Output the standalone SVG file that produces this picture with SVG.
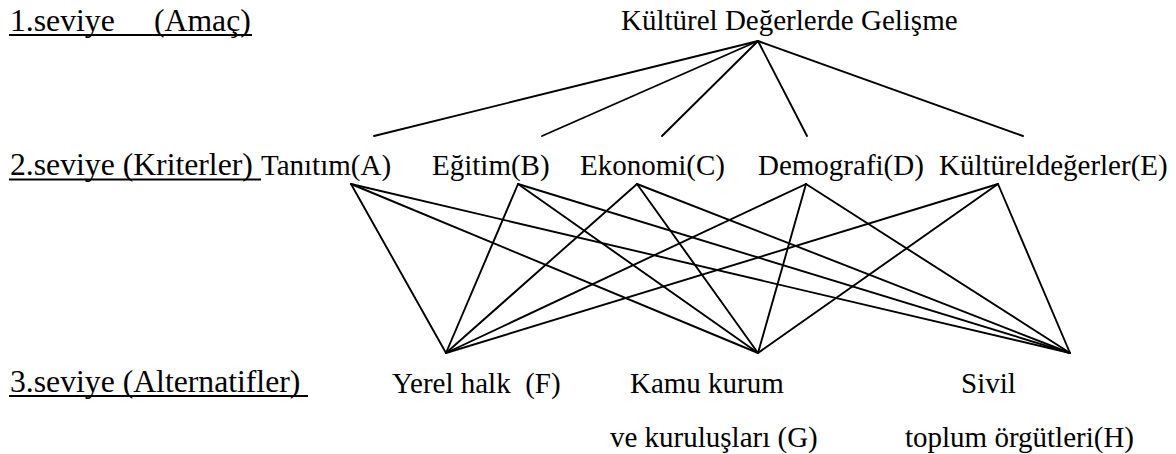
<svg xmlns="http://www.w3.org/2000/svg" width="1176" height="454" viewBox="0 0 1176 454">
<style>
text{font-family:'Liberation Serif','DejaVu Serif',serif;fill:#000}
.n{font-size:29px}
.lv{font-size:31.7px}
.ul{stroke:#000;stroke-width:2}
#connectors line{stroke:#000;stroke-width:1.9;stroke-linecap:round}
</style>
<rect width="1176" height="454" fill="#fff"/>
<g id="levels" font-family="Liberation Serif">
<text class="lv" x="10" y="31">1.seviye</text>
<text class="lv" x="154" y="31">(Amaç)</text>
<line class="ul" x1="9" y1="35" x2="252" y2="35"/>
<text class="lv" x="10" y="175">2.seviye (Kriterler)</text>
<line class="ul" x1="9" y1="179.5" x2="261" y2="179.5"/>
<text class="lv" x="10" y="392">3.seviye (Alternatifler)</text>
<line class="ul" x1="9" y1="396" x2="308" y2="396"/>
</g>
<g id="goal"><text class="n" x="621" y="30">Kültürel Değerlerde Gelişme</text></g>
<g id="nodeA"><text class="n" x="261" y="175">Tanıtım(A)</text></g>
<g id="nodeB"><text class="n" x="432" y="175">Eğitim(B)</text></g>
<g id="nodeC"><text class="n" x="580" y="175">Ekonomi(C)</text></g>
<g id="nodeD"><text class="n" x="758" y="175">Demografi(D)</text></g>
<g id="nodeE"><text class="n" x="939" y="175">Kültüreldeğerler(E)</text></g>
<g id="nodeF"><text class="n" x="392" y="393" xml:space="preserve">Yerel halk  (F)</text></g>
<g id="nodeG"><text class="n" x="630" y="393">Kamu kurum</text><text class="n" x="610" y="447">ve kuruluşları (G)</text></g>
<g id="nodeH"><text class="n" x="961" y="393">Sivil</text><text class="n" x="905" y="447">toplum örgütleri(H)</text></g>
<g id="connectors">
<line x1="758" y1="41" x2="374" y2="136"/>
<line x1="758" y1="41" x2="542" y2="136"/>
<line x1="758" y1="41" x2="662" y2="136"/>
<line x1="758" y1="41" x2="807" y2="136"/>
<line x1="758" y1="41" x2="1023" y2="136"/>
<line x1="351" y1="184" x2="446" y2="353"/>
<line x1="351" y1="184" x2="758" y2="353"/>
<line x1="351" y1="184" x2="1070" y2="353"/>
<line x1="518" y1="184" x2="446" y2="353"/>
<line x1="518" y1="184" x2="758" y2="353"/>
<line x1="518" y1="184" x2="1070" y2="353"/>
<line x1="637" y1="184" x2="446" y2="353"/>
<line x1="637" y1="184" x2="758" y2="353"/>
<line x1="637" y1="184" x2="1070" y2="353"/>
<line x1="806" y1="184" x2="446" y2="353"/>
<line x1="806" y1="184" x2="758" y2="353"/>
<line x1="806" y1="184" x2="1070" y2="353"/>
<line x1="998" y1="184" x2="446" y2="353"/>
<line x1="998" y1="184" x2="758" y2="353"/>
<line x1="998" y1="184" x2="1070" y2="353"/>
</g>
</svg>
